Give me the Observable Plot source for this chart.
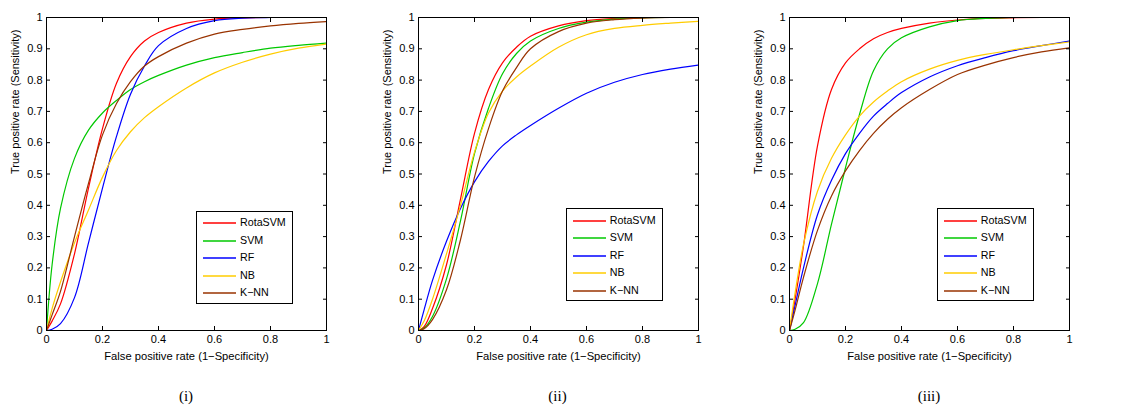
<!DOCTYPE html>
<html>
<head>
<meta charset="utf-8">
<script src="https://cdn.jsdelivr.net/npm/d3@7"></script>
<script src="https://cdn.jsdelivr.net/npm/@observablehq/plot@0.6"></script>
<style>
  body { margin: 0; background: #fff; }
  #root { position: relative; width: 1146px; height: 407px; overflow: hidden; font-family: "Liberation Sans", Arial, sans-serif; }
  .panel { position: absolute; top: 0; width: 372px; height: 407px; }
  .panel > svg { position: absolute; left: 0; top: 0; }
  .caption { position: absolute; left: 0; width: 372px; top: 386px; text-align: center; font-family: "Liberation Serif", "Times New Roman", serif; font-size: 15px; line-height: 20px; color: #000; }
  .legend { position: absolute; width: 97px; height: 93px; border: 1px solid #000; background: #fff; box-sizing: border-box; padding-top: 2.5px; }
  .legend .row { position: relative; height: 17.5px; font-size: 10.7px; line-height: 17.5px; color: #000; }
  .legend .sw { position: absolute; left: 6px; top: 7px; }
  .legend .lb { position: absolute; left: 43px; top: 0; }
</style>
</head>
<body>
<div id="root"></div>
<script>
// ---- data ----
const fpr = [0, 0.02, 0.05, 0.1, 0.15, 0.2, 0.25, 0.3, 0.35, 0.4, 0.5, 0.6, 0.7, 0.8, 0.9, 1.0];
const methods = ["RotaSVM", "SVM", "RF", "NB", "K\u2212NN"];
const methodColors = ["#ff0000", "#00c800", "#0000ff", "#ffcc00", "#993300"];
const panelNames = ["(i)", "(ii)", "(iii)"];
const xTicks = [0, 0.2, 0.4, 0.6, 0.8, 1];
const yTicks = [0, 0.1, 0.2, 0.3, 0.4, 0.5, 0.6, 0.7, 0.8, 0.9, 1];
const xTitle = "False positive rate (1\u2212Specificity)";
const yTitle = "True positive rate (Sensitivity)";

// panel (i)
const tprI_RotaSVM = [0, 0.03, 0.085, 0.245, 0.455, 0.645, 0.79, 0.875, 0.925, 0.952, 0.982, 0.995, 0.999, 1, 1, 1];
const tprI_SVM     = [0, 0.21, 0.39, 0.55, 0.64, 0.695, 0.735, 0.77, 0.795, 0.815, 0.848, 0.872, 0.888, 0.902, 0.911, 0.918];
const tprI_RF      = [0, 0.004, 0.022, 0.105, 0.28, 0.455, 0.62, 0.755, 0.845, 0.91, 0.965, 0.99, 0.998, 1, 1, 1];
const tprI_NB      = [0, 0.07, 0.155, 0.28, 0.385, 0.49, 0.575, 0.635, 0.68, 0.715, 0.775, 0.823, 0.857, 0.883, 0.902, 0.915];
const tprI_KNN     = [0, 0.05, 0.125, 0.30, 0.47, 0.625, 0.725, 0.795, 0.845, 0.875, 0.918, 0.947, 0.962, 0.973, 0.981, 0.987];

// panel (ii)
const tprII_RotaSVM = [0, 0.012, 0.07, 0.21, 0.42, 0.63, 0.77, 0.855, 0.905, 0.94, 0.973, 0.99, 0.997, 1, 1, 1];
const tprII_SVM     = [0, 0.008, 0.045, 0.165, 0.35, 0.565, 0.71, 0.82, 0.885, 0.925, 0.965, 0.985, 0.995, 0.999, 1, 1];
const tprII_RF      = [0, 0.066, 0.16, 0.285, 0.39, 0.475, 0.54, 0.59, 0.625, 0.655, 0.71, 0.758, 0.793, 0.818, 0.835, 0.848];
const tprII_NB      = [0, 0.03, 0.10, 0.245, 0.40, 0.57, 0.695, 0.765, 0.81, 0.845, 0.905, 0.945, 0.965, 0.975, 0.982, 0.988];
const tprII_KNN     = [0, 0.006, 0.035, 0.13, 0.29, 0.49, 0.645, 0.765, 0.84, 0.9, 0.955, 0.982, 0.993, 0.998, 1, 1];

// panel (iii)
const tprIII_RotaSVM = [0, 0.10, 0.27, 0.59, 0.77, 0.855, 0.90, 0.932, 0.952, 0.965, 0.982, 0.992, 0.997, 0.999, 1, 1];
const tprIII_SVM     = [0, 0.004, 0.025, 0.15, 0.34, 0.52, 0.69, 0.83, 0.9, 0.935, 0.97, 0.99, 0.997, 1, 1, 1];
const tprIII_RF      = [0, 0.08, 0.20, 0.37, 0.48, 0.565, 0.63, 0.685, 0.725, 0.76, 0.81, 0.846, 0.872, 0.894, 0.91, 0.925];
const tprIII_NB      = [0, 0.12, 0.275, 0.445, 0.55, 0.625, 0.685, 0.73, 0.765, 0.795, 0.835, 0.863, 0.882, 0.897, 0.91, 0.922];
const tprIII_KNN     = [0, 0.065, 0.17, 0.32, 0.43, 0.51, 0.575, 0.63, 0.675, 0.712, 0.77, 0.818, 0.848, 0.872, 0.89, 0.903];

const panelSeries = [
  [tprI_RotaSVM, tprI_SVM, tprI_RF, tprI_NB, tprI_KNN],
  [tprII_RotaSVM, tprII_SVM, tprII_RF, tprII_NB, tprII_KNN],
  [tprIII_RotaSVM, tprIII_SVM, tprIII_RF, tprIII_NB, tprIII_KNN]
];

// ---- layout ----
const panelLeft = [0, 371.5, 743];
const legendPos = [[196, 210.5], [194.3, 208.3], [193.8, 208]];

const fmt = d3.format("~g");
const root = document.getElementById("root");
const svgNS = "http://www.w3.org/2000/svg";

panelSeries.forEach((series, p) => {
  const rows = [];
  series.forEach((vals, s) => {
    vals.forEach((v, i) => rows.push({name: methods[s], fpr: fpr[i], tpr: v}));
  });

  const chart = Plot.plot({
    width: 372,
    height: 372,
    marginLeft: 46,
    marginRight: 46,
    marginTop: 17,
    marginBottom: 42,
    style: {fontFamily: '"Liberation Sans", Arial, sans-serif', fontSize: "11px", color: "#000", background: "transparent", overflow: "visible"},
    x: {domain: [0, 1]},
    y: {domain: [0, 1]},
    color: {domain: methods, range: methodColors},
    marks: [
      Plot.line(rows, {x: "fpr", y: "tpr", z: "name", stroke: "name", curve: "catmull-rom", strokeWidth: 1.2, clip: true}),
      Plot.frame({stroke: "#000", strokeWidth: 1}),
      Plot.axisX(xTicks, {anchor: "bottom", tickSize: -4, tickPadding: 9, tickFormat: fmt, label: null, fontSize: 11}),
      Plot.axisX(xTicks, {anchor: "top", tickSize: -4, tickFormat: () => "", label: null}),
      Plot.axisY(yTicks, {anchor: "left", tickSize: -4, tickPadding: 8, tickFormat: fmt, label: null, fontSize: 11}),
      Plot.axisY(yTicks, {anchor: "right", tickSize: -4, tickFormat: () => "", label: null}),
      Plot.text([xTitle], {frameAnchor: "bottom", dy: 26, text: d => d, fontSize: 11.2, lineAnchor: "middle", fill: "#000"}),
      Plot.text([yTitle], {frameAnchor: "left", dx: -31, rotate: -90, text: d => d, fontSize: 11, lineAnchor: "middle", fill: "#000"})
    ]
  });

  const panel = document.createElement("div");
  panel.className = "panel";
  panel.style.left = panelLeft[p] + "px";
  panel.appendChild(chart);

  const legend = document.createElement("div");
  legend.className = "legend";
  legend.style.left = legendPos[p][0] + "px";
  legend.style.top = legendPos[p][1] + "px";
  methods.forEach((m, i) => {
    const r = document.createElement("div");
    r.className = "row";
    const sw = document.createElementNS(svgNS, "svg");
    sw.setAttribute("class", "sw");
    sw.setAttribute("width", "33");
    sw.setAttribute("height", "4");
    const ln = document.createElementNS(svgNS, "line");
    ln.setAttribute("x1", "0"); ln.setAttribute("x2", "33");
    ln.setAttribute("y1", "2"); ln.setAttribute("y2", "2");
    ln.setAttribute("stroke", methodColors[i]);
    ln.setAttribute("stroke-width", "1.3");
    sw.appendChild(ln);
    const lb = document.createElement("span");
    lb.className = "lb";
    lb.textContent = m;
    r.appendChild(sw); r.appendChild(lb);
    legend.appendChild(r);
  });
  panel.appendChild(legend);

  const cap = document.createElement("div");
  cap.className = "caption";
  cap.textContent = panelNames[p];
  panel.appendChild(cap);

  root.appendChild(panel);
});
</script>
</body>
</html>
